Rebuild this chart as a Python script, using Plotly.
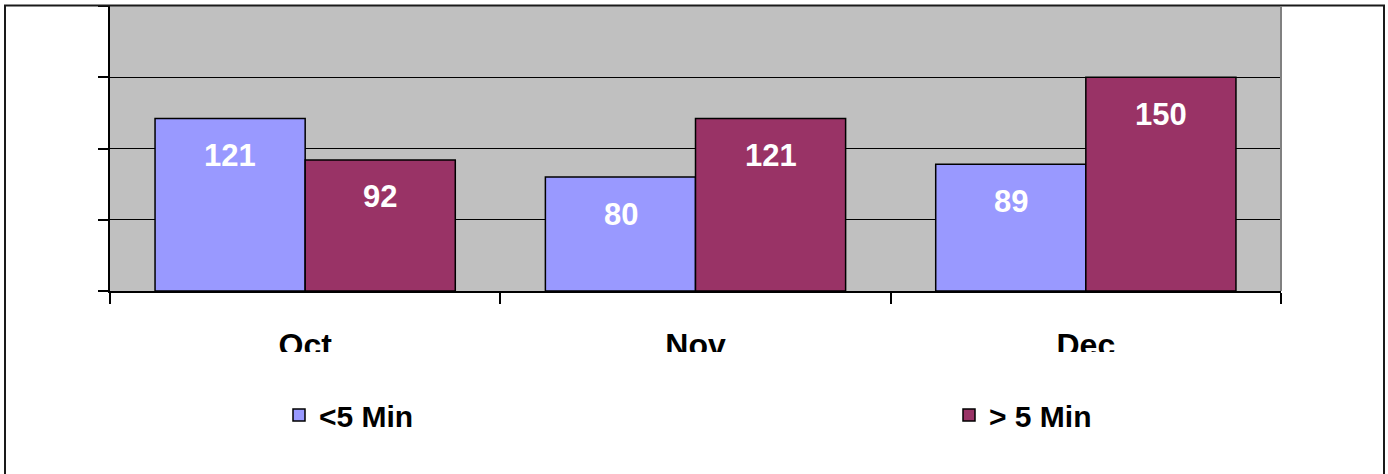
import plotly.graph_objects as go

categories = ["Oct", "Nov", "Dec"]
under_5 = [121, 80, 89]
over_5 = [92, 121, 150]
series_names = ["<5 Min", "> 5 Min"]

W, H = 1388, 474
L, R, T, B = 110, 107, 6, 183
PW = W - L - R
PH = H - T - B

def px_x(p):
    return (p - L) / PW

def px_y(p):
    return (H - B - p) / PH

FONT = "Arial, Liberation Sans, sans-serif"

fig = go.Figure()
fig.add_trace(go.Bar(name=series_names[0], x=categories, y=under_5, legend="legend",
                     marker=dict(color="#9999FF", line=dict(color="black", width=1.5))))
fig.add_trace(go.Bar(name=series_names[1], x=categories, y=over_5, legend="legend2",
                     marker=dict(color="#993366", line=dict(color="black", width=1.5))))

# data labels inside bars
for vals, shift in ((under_5, -75), (over_5, 75)):
    for c, v in zip(categories, vals):
        fig.add_annotation(x=c, y=v, text=str(v), showarrow=False, xshift=shift, yshift=-37,
                           font=dict(family=FONT, size=31, color="white", weight="bold"))

shapes = [
    # outer chart frame
    dict(type="rect", xref="paper", yref="paper", x0=px_x(5), x1=px_x(1384), y0=px_y(490), y1=px_y(5.5),
         line=dict(color="#1a1a1a", width=2), fillcolor="rgba(0,0,0,0)", layer="above"),
    # plot area right border
    dict(type="line", xref="paper", yref="paper", x0=1, x1=1, y0=0, y1=1,
         line=dict(color="#808080", width=2), layer="above"),
    # clip region hiding lower part of category labels
    dict(type="rect", xref="paper", yref="paper", x0=px_x(12), x1=px_x(1378), y0=px_y(396), y1=px_y(352),
         line=dict(width=0), fillcolor="white", layer="above"),
]

legend_font = dict(family=FONT, size=30, color="black", weight="bold")

fig.update_layout(
    width=W, height=H,
    margin=dict(l=L, r=R, t=T, b=B),
    paper_bgcolor="white", plot_bgcolor="#C0C0C0",
    barmode="group", bargap=0.2308, bargroupgap=0,
    shapes=shapes,
    showlegend=True,
    legend=dict(orientation="h", x=px_x(279), xanchor="left", y=px_y(415), yanchor="middle",
                font=legend_font, bgcolor="rgba(0,0,0,0)"),
    legend2=dict(orientation="h", x=px_x(949), xanchor="left", y=px_y(415), yanchor="middle",
                 font=legend_font, bgcolor="rgba(0,0,0,0)"),
    xaxis=dict(showline=True, linecolor="black", linewidth=1.5, ticks="outside", ticklen=11,
               tickcolor="black", tickwidth=1.5, tickson="boundaries", showgrid=False,
               tickfont=dict(family=FONT, size=32, color="black", weight="bold"),
               ticklabelstandoff=25, fixedrange=True),
    yaxis=dict(range=[0, 200], dtick=50, showline=True, linecolor="black", linewidth=1.5,
               ticks="outside", ticklen=10, tickcolor="black", tickwidth=1.5,
               showgrid=True, gridcolor="black", gridwidth=1, showticklabels=False,
               zeroline=False, fixedrange=True),
)

fig.write_html("out.html", config={"displayModeBar": False},
               post_script="document.body.style.margin='0';document.body.style.overflow='hidden';")
